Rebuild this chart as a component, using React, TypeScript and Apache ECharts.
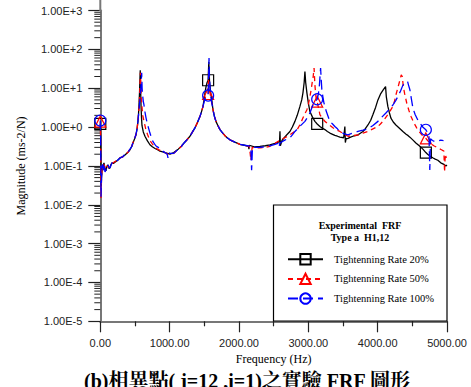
import React, { useEffect, useRef } from "react";
import * as echarts from "echarts";

// ---- Data ----
const seriesNames = ["Tightenning Rate 20%", "Tightenning Rate 50%", "Tightenning Rate 100%"];
const markerFreqs = [0, 1555, 3128, 4695];
const xTickLabels = ["0.00", "1000.00", "2000.00", "3000.00", "4000.00", "5000.00"];

const f20 = [0,6,12,20,28,53,68,82,97,111,126,140,155,169,190,212,250,284,320,356,395,428,455,471,495,515,530,543,552,558,566,572,576,580,587,594,601,620,644,680,716,750,789,825,861,900,933,970,1005,1060,1124,1170,1208,1250,1293,1330,1365,1400,1437,1460,1481,1496,1509,1525,1540,1555,1565,1575,1590,1605,1625,1645,1668,1695,1726,1760,1798,1830,1870,1940,2014,2080,2138,2143,2150,2220,2302,2380,2446,2520,2585,2591,2597,2620,2662,2700,2735,2770,2807,2840,2879,2905,2922,2940,2951,2962,2980,3000,3023,3060,3095,3128,3167,3200,3239,3275,3311,3350,3383,3420,3455,3510,3527,3534,3545,3572,3610,3644,3680,3716,3750,3788,3825,3860,3900,3932,3970,4004,4040,4080,4114,4125,4147,4170,4191,4225,4263,4310,4364,4410,4440,4465,4510,4551,4600,4652,4695,4720,4753,4800,4830,4868,4910,4955,4985,5000];
const m20 = [1.2,0.5,0.03,0.06,0.085,0.12,0.085,0.075,0.1,0.105,0.085,0.09,0.11,0.12,0.115,0.125,0.14,0.16,0.17,0.19,0.22,0.26,0.32,0.39,0.5,0.63,0.9,1.4,2.3,3.7,8,18,29,12,3.7,1.8,1.1,0.75,0.58,0.44,0.35,0.31,0.28,0.26,0.24,0.23,0.22,0.21,0.2,0.22,0.27,0.32,0.39,0.47,0.58,0.75,0.95,1.3,1.86,2.5,3.4,5,7.5,11,14,16,48,15,8,5.5,2.8,1.9,1.4,1.1,0.86,0.72,0.6,0.53,0.47,0.41,0.36,0.34,0.32,0.27,0.34,0.31,0.32,0.33,0.35,0.38,0.42,0.78,0.33,0.45,0.56,0.66,0.77,1.0,1.4,2.0,3.4,5,7.5,14,27,14,7.5,4.2,2.5,1.8,1.4,1.2,1.03,0.94,0.86,0.77,0.7,0.65,0.61,0.58,0.55,0.53,1.03,0.4,0.5,0.51,0.55,0.58,0.6,0.63,0.69,0.77,0.92,1.13,1.5,2.1,3.2,5,7,9,11,6,3.4,2.3,1.7,1.35,1.13,0.95,0.77,0.65,0.6,0.55,0.46,0.39,0.33,0.27,0.22,0.2,0.18,0.16,0.15,0.14,0.12,0.11,0.1,0.105];

const f50 = [0,5,10,18,28,40,53,68,82,97,111,126,140,169,212,250,284,320,356,395,428,455,471,495,515,530,543,555,565,572,578,585,592,600,612,630,655,680,716,750,789,825,861,900,933,970,1005,1060,1124,1170,1208,1250,1293,1330,1365,1400,1437,1460,1481,1500,1520,1540,1555,1563,1572,1585,1600,1625,1645,1668,1695,1726,1760,1798,1830,1870,1940,2014,2080,2150,2172,2190,2240,2302,2380,2446,2520,2591,2660,2735,2790,2840,2880,2922,2950,2980,3005,3023,3040,3055,3070,3083,3095,3110,3128,3145,3167,3200,3239,3275,3311,3350,3383,3420,3455,3520,3572,3644,3716,3788,3860,3932,4004,4040,4076,4110,4147,4185,4220,4245,4263,4290,4320,4340,4355,4370,4390,4420,4450,4480,4520,4565,4610,4665,4695,4720,4753,4810,4868,4920,4955,4965,4975,4990];
const m50 = [1.38,0.5,0.015,0.05,0.1,0.08,0.11,0.09,0.08,0.095,0.1,0.09,0.095,0.115,0.13,0.14,0.16,0.17,0.2,0.22,0.27,0.32,0.4,0.5,0.65,0.9,1.4,2.5,5,12,25,12,6,3.5,2.0,1.4,0.9,0.65,0.45,0.37,0.3,0.27,0.25,0.23,0.22,0.2,0.2,0.21,0.27,0.32,0.39,0.47,0.58,0.75,0.95,1.3,1.86,2.5,3.4,4.8,6.2,6.8,7.1,30,12,7,4.8,2.8,1.9,1.4,1.1,0.86,0.72,0.6,0.53,0.47,0.41,0.36,0.34,0.32,0.14,0.3,0.29,0.29,0.3,0.32,0.38,0.46,0.53,0.63,0.74,0.86,1.15,1.7,2.2,2.8,4.2,6.1,9,13.7,20,33,12,6,4.5,3.2,2.1,1.7,1.4,1.25,1.1,0.97,0.88,0.82,0.77,0.65,0.58,0.6,0.63,0.7,0.77,0.9,1.03,1.2,1.4,1.7,2.1,2.7,3.4,4.8,6.7,10,16,22,20,11,7.1,4.1,2.7,1.9,1.3,0.94,0.72,0.55,0.51,0.45,0.39,0.33,0.29,0.26,0.24,0.07,0.2,0.16];

const f100 = [0,5,10,18,25,35,45,53,68,82,97,111,126,140,169,212,250,284,320,356,395,428,455,471,495,515,530,543,560,575,588,597,603,610,620,630,645,660,685,716,740,760,800,861,900,933,965,976,985,1005,1060,1124,1170,1208,1250,1293,1330,1365,1400,1437,1460,1481,1500,1520,1540,1555,1562,1568,1574,1585,1600,1625,1645,1668,1695,1726,1760,1798,1830,1870,1940,2014,2080,2170,2182,2195,2240,2302,2380,2446,2520,2560,2575,2591,2660,2735,2770,2807,2880,2951,2990,3023,3066,3100,3128,3145,3160,3177,3185,3195,3210,3225,3260,3311,3350,3383,3420,3455,3510,3572,3644,3716,3788,3860,3932,4004,4060,4119,4170,4220,4260,4292,4330,4364,4400,4431,4445,4465,4485,4508,4540,4580,4620,4650,4695,4720,4740,4752,4762,4790,4830,4868,4910,4950];
const m100 = [1.47,0.5,0.016,0.05,0.09,0.11,0.075,0.1,0.07,0.08,0.1,0.11,0.09,0.09,0.12,0.12,0.14,0.16,0.17,0.2,0.22,0.27,0.32,0.4,0.5,0.65,0.9,1.4,3,6,12,25,10,6.6,4.6,3.7,2.4,1.7,1.1,0.7,0.52,0.42,0.33,0.28,0.24,0.22,0.2,0.16,0.22,0.21,0.21,0.27,0.32,0.39,0.47,0.58,0.75,0.95,1.3,1.86,2.5,3.4,4.6,5.6,6.2,6.5,20,60,20,9,5,2.8,1.9,1.4,1.1,0.86,0.72,0.6,0.53,0.47,0.41,0.36,0.34,0.32,0.077,0.31,0.3,0.3,0.31,0.33,0.36,0.38,0.3,0.39,0.46,0.53,0.63,0.77,1.05,1.4,1.8,2.3,3.7,4.6,5.2,7.1,12,33,18,9.1,6,4.2,2.5,1.4,1.2,1.03,0.9,0.77,0.68,0.63,0.7,0.77,0.83,0.9,1.1,1.4,1.8,2.3,2.9,3.7,4.8,6.1,8.5,12,14,15,12,9.1,5.5,3.1,2.1,1.5,1.2,1.0,0.85,0.72,0.63,0.078,0.5,0.45,0.42,0.44,0.46,0.45];

// log-scale minor tick values (2..9 x 10^k)
const minorTickValues: number[] = [];
for (let k = -5; k <= 2; k++) {
  for (let m = 2; m <= 9; m++) minorTickValues.push(m * Math.pow(10, k));
}

const SERIF = "'Liberation Serif', 'Times New Roman', 'Noto Serif CJK TC', 'Noto Sans CJK TC', serif";
const SANS = "'Liberation Sans', Arial, sans-serif";

const zip = (xs: number[], ys: number[]) => xs.map((x, i) => [x, ys[i]]);
const markSize = (val: number[]) => (markerFreqs.includes(val[0]) ? 11 : 0);

export default function App() {
  const ref = useRef<HTMLDivElement>(null);
  useEffect(() => {
    if (!ref.current) return;
    const chart = echarts.init(ref.current, null, { renderer: "svg" });
    const lineBase = {
      type: "line",
      showSymbol: true,
      symbolSize: markSize,
      clip: false,
      silent: true,
    };
    chart.setOption({
      animation: false,
      backgroundColor: "#fff",
      grid: { left: 100.3, right: 24, top: 10.5, bottom: 65.7 },
      xAxis: {
        type: "value",
        min: 0,
        max: 5000,
        interval: 1000,
        name: "Frequency (Hz)",
        nameLocation: "middle",
        nameGap: 31,
        nameTextStyle: { fontFamily: SERIF, fontSize: 12, color: "#000" },
        axisLine: { lineStyle: { color: "#777", width: 2 } },
        axisTick: { length: 11, lineStyle: { color: "#222", width: 1.2 } },
        minorTick: { show: true, splitNumber: 2, length: 5, lineStyle: { color: "#222", width: 1.2 } },
        splitLine: { show: false },
        axisLabel: {
          margin: 16,
          fontFamily: SANS,
          fontSize: 11,
          color: "#222",
          formatter: (v: number) => xTickLabels[Math.round(v / 1000)] ?? v.toFixed(2),
        },
      },
      yAxis: {
        type: "log",
        logBase: 10,
        min: 1e-5,
        max: 1e3,
        splitNumber: 8,
        name: "Magnitude (ms-2/N)",
        nameLocation: "middle",
        nameGap: 73,
        nameTextStyle: { fontFamily: SERIF, fontSize: 12, color: "#000" },
        axisLine: { show: true, lineStyle: { color: "#777", width: 2 } },
        axisTick: { show: true, length: 12, lineStyle: { color: "#222", width: 1.2 } },
        splitLine: { show: false },
        axisLabel: {
          margin: 18,
          fontFamily: SANS,
          fontSize: 11,
          color: "#222",
          formatter: (v: number) => v.toExponential(2).toUpperCase(),
        },
      },
      legend: {
        data: seriesNames,
        orient: "vertical",
        left: 287,
        top: 253,
        padding: 0,
        itemWidth: 35,
        itemHeight: 13,
        itemGap: 7.3,
        selectedMode: false,
        z: 10,
        textStyle: { fontFamily: SERIF, fontSize: 10.5, color: "#000", padding: [0, 0, 0, 6] },
      },
      graphic: [
        {
          type: "line",
          z: 1,
          shape: { x1: 100.3, y1: 0, x2: 100.3, y2: 11 },
          style: { stroke: "#777", lineWidth: 2 },
        },
        {
          type: "rect",
          z: 3,
          shape: { x: 273.5, y: 205, width: 173.5, height: 116 },
          style: { fill: "#fff", stroke: "#000", lineWidth: 1.2 },
        },
        {
          type: "text",
          z: 11,
          x: 360,
          y: 225.7,
          style: { text: "Experimental  FRF", fontFamily: SERIF, fontSize: 10, fontWeight: "bold", fill: "#000", align: "center", verticalAlign: "middle" },
        },
        {
          type: "text",
          z: 11,
          x: 360,
          y: 237.5,
          style: { text: "Type a  H1,12", fontFamily: SERIF, fontSize: 10, fontWeight: "bold", fill: "#000", align: "center", verticalAlign: "middle" },
        },
        {
          type: "text",
          z: 11,
          x: 247,
          y: 371,
          style: { text: "(b)相異點( j=12 ,i=1)之實驗 FRF 圖形", fontFamily: SERIF, fontSize: 20, fontWeight: "bold", fill: "#000", align: "center", verticalAlign: "top" },
        },
      ],
      series: [
        {
          ...lineBase,
          name: seriesNames[0],
          data: zip(f20, m20),
          symbol: "rect",
          z: 4,
          itemStyle: { color: "rgba(0,0,0,0)", borderColor: "#000", borderWidth: 1.2 },
          lineStyle: { color: "#000", width: 1.3, type: "solid" },
        },
        {
          ...lineBase,
          name: seriesNames[1],
          data: zip(f50, m50),
          symbol: "triangle",
          z: 5,
          itemStyle: { color: "rgba(0,0,0,0)", borderColor: "#ff0000", borderWidth: 1.2 },
          lineStyle: { color: "#ff0000", width: 1.3, type: [5, 4] },
        },
        {
          ...lineBase,
          name: seriesNames[2],
          data: zip(f100, m100),
          symbol: "circle",
          z: 6,
          itemStyle: { color: "rgba(0,0,0,0)", borderColor: "#0000ff", borderWidth: 1.2 },
          lineStyle: { color: "#0000ff", width: 1.3, type: [10, 5] },
        },
        {
          type: "custom",
          name: "minorTicks",
          silent: true,
          clip: false,
          z: 2,
          data: minorTickValues.map((v) => [0, v]),
          renderItem: (_params: any, api: any) => {
            const p = api.coord([api.value(0), api.value(1)]);
            return {
              type: "line",
              shape: { x1: p[0] - 6, y1: p[1], x2: p[0], y2: p[1] },
              style: { stroke: "#222", lineWidth: 1 },
            };
          },
        },
      ],
    });
    return () => chart.dispose();
  }, []);
  return <div ref={ref} style={{ position: "fixed", left: 0, top: 0, width: 471, height: 387 }} />;
}
